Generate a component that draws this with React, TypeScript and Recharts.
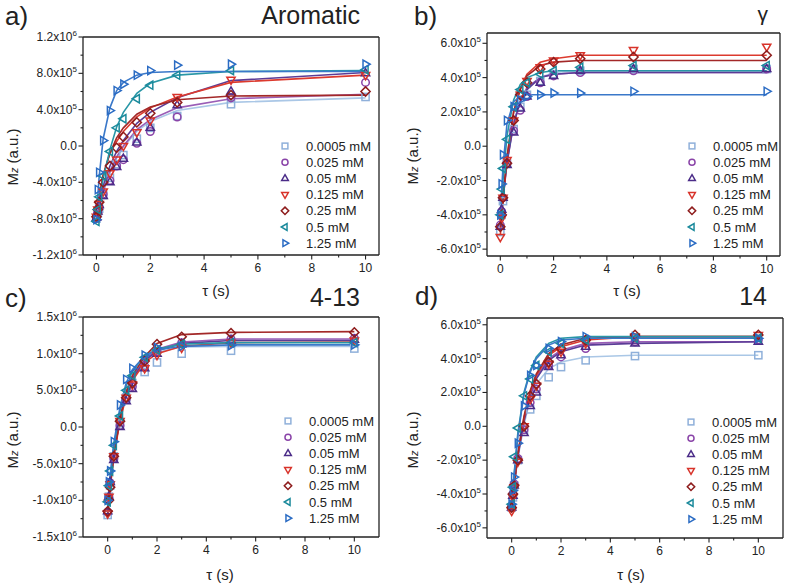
import React from 'react'
import { ComposedChart, Line, XAxis, YAxis, ReferenceLine } from 'recharts'

// delay times (s)
const TIME = [0, 0.05, 0.1, 0.25, 0.5, 0.75, 1, 1.5, 2, 3, 5, 10]

const CONCENTRATIONS = ['0.0005 mM', '0.025 mM', '0.05 mM', '0.125 mM', '0.25 mM', '0.5 mM', '1.25 mM']
const SYMBOLS = ['square', 'circle', 'up', 'down', 'diamond', 'left', 'right']
const SYMBOL_COLORS = ['#8fb0da', '#8a44a8', '#4b2c88', '#d8332a', '#8e1c1c', '#1b8a9c', '#2b6cc4']
const LINE_COLORS = ['#aac7e6', '#9a5db6', '#5b3c96', '#dc3a2e', '#a32828', '#2896a6', '#3a78c9']

// all magnetization values in units of 1e5 (a.u.), one row per concentration
const AROMATIC_PTS = [
  [-8.0, -7.4, -6.9, -5.4, -3.5, -2.0, -1.0, 0.8, 2.0, 3.3, 4.6, 5.4],
  [-8.0, -7.3, -6.8, -5.3, -3.8, -2.2, -1.5, 0.3, 1.6, 3.2, 5.3, 7.0],
  [-7.9, -7.2, -6.5, -5.5, -4.0, -2.3, -1.4, 0.4, 2.0, 4.5, 6.0, 8.0],
  [-7.8, -7.0, -6.4, -5.0, -3.0, -1.5, 0.0, 1.5, 2.8, 5.4, 7.3, 7.8],
  [-7.8, -7.0, -6.2, -4.0, -2.2, -0.2, 1.0, 2.6, 3.6, 4.8, 5.6, 6.0],
  [-8.3, -7.0, -5.6, -3.3, -0.6, 2.0, 3.0, 5.2, 6.7, 7.8, 8.3, 8.4],
  [-8.1, -4.8, -2.9, 0.6, 3.9, 6.1, 6.8, 7.8, 8.3, 8.9, 9.0, 9.0],
]
const AROMATIC_FIT = [
  [-7.8, -7.2, -6.6, -5.0, -2.9, -1.3, -0.1, 1.6, 2.7, 3.9, 4.8, 5.3],
  [-7.8, -7.2, -6.6, -5.0, -2.8, -1.2, 0.0, 1.8, 2.9, 4.2, 5.2, 5.7],
  [-7.8, -7.0, -6.3, -4.4, -2.2, -0.6, 0.6, 2.5, 3.7, 5.3, 7.2, 8.1],
  [-7.6, -6.6, -5.6, -3.2, -0.8, 0.5, 1.6, 3.2, 4.2, 5.4, 7.0, 7.8],
  [-7.6, -6.6, -5.6, -3.2, -0.8, 0.9, 2.0, 3.5, 4.3, 5.1, 5.5, 5.6],
  [-8.2, -7.2, -6.2, -3.6, -0.4, 2.1, 3.7, 5.8, 6.9, 7.8, 8.2, 8.3],
  [-8.0, -5.5, -3.4, 0.8, 4.2, 6.1, 7.0, 7.8, 8.1, 8.2, 8.2, 8.2],
]

const GAMMA_PTS = [
  [-5.0, -4.0, -3.2, -1.0, 1.0, 2.3, 3.0, 3.8, 4.2, 4.4, 4.5, 4.5],
  [-4.6, -3.8, -3.0, -1.0, 0.9, 2.1, 2.9, 3.7, 4.1, 4.3, 4.4, 4.5],
  [-4.7, -3.7, -3.0, -1.1, 0.8, 2.2, 2.9, 3.7, 4.1, 4.4, 4.5, 4.5],
  [-5.3, -4.2, -3.0, -0.8, 1.5, 3.0, 3.8, 4.6, 5.0, 5.3, 5.6, 5.8],
  [-4.7, -4.0, -3.0, -1.0, 1.5, 3.0, 3.7, 4.5, 4.9, 5.1, 5.2, 5.3],
  [-4.0, -2.5, -1.3, 0.4, 2.3, 3.3, 3.7, 4.2, 4.4, 4.6, 4.7, 4.7],
  [-4.0, -2.2, -0.5, 1.5, 2.3, 2.7, 2.9, 3.0, 3.1, 3.1, 3.2, 3.2],
]
const GAMMA_FIT = [
  [-4.8, -3.9, -3.1, -0.9, 1.4, 2.7, 3.4, 4.0, 4.3, 4.4, 4.4, 4.4],
  [-4.6, -3.8, -3.0, -0.9, 1.3, 2.6, 3.4, 4.0, 4.2, 4.3, 4.3, 4.3],
  [-4.7, -3.9, -3.1, -1.0, 1.3, 2.6, 3.3, 4.0, 4.2, 4.3, 4.3, 4.3],
  [-5.2, -4.2, -3.2, -0.7, 2.0, 3.4, 4.2, 4.9, 5.1, 5.3, 5.3, 5.3],
  [-4.8, -3.9, -3.0, -0.6, 2.0, 3.3, 4.1, 4.7, 4.9, 5.0, 5.0, 5.0],
  [-4.3, -3.2, -2.0, 0.6, 2.7, 3.6, 4.0, 4.3, 4.4, 4.4, 4.4, 4.4],
  [-4.2, -2.6, -1.2, 1.3, 2.6, 2.9, 3.0, 3.0, 3.0, 3.0, 3.0, 3.0],
]

const H413_PTS = [
  [-12.0, -9.5, -8.0, -4.0, 0.5, 4.0, 6.0, 7.5, 8.8, 10.0, 10.4, 10.7],
  [-11.6, -9.6, -7.6, -4.3, 0.2, 3.8, 5.5, 8.3, 10.3, 11.5, 12.0, 12.1],
  [-11.5, -9.5, -7.5, -4.5, 0.0, 3.5, 5.2, 8.0, 10.0, 11.3, 11.8, 11.9],
  [-11.8, -9.5, -7.8, -4.0, 0.8, 4.0, 5.8, 8.0, 9.8, 10.8, 11.5, 11.8],
  [-11.5, -10.0, -8.2, -4.0, 0.8, 4.0, 6.0, 9.0, 11.3, 12.3, 12.8, 12.9],
  [-10.2, -8.0, -6.0, -2.5, 1.5, 5.0, 7.0, 9.5, 10.5, 11.3, 11.5, 11.5],
  [-10.0, -7.5, -6.0, -2.0, 3.0, 6.5, 8.0, 9.8, 10.8, 11.0, 11.1, 11.2],
]
const H413_FIT = [
  [-11.5, -9.5, -7.6, -3.5, 1.0, 4.5, 6.6, 9.0, 10.2, 10.9, 11.0, 11.0],
  [-11.9, -9.9, -8.1, -3.7, 1.1, 4.6, 6.8, 9.2, 10.6, 11.6, 12.0, 12.0],
  [-11.8, -9.8, -8.0, -3.7, 1.0, 4.5, 6.6, 9.0, 10.4, 11.4, 11.8, 11.8],
  [-12.2, -10.2, -8.3, -4.0, 0.8, 4.2, 6.3, 8.8, 10.0, 11.0, 11.5, 11.6],
  [-11.8, -10.0, -8.2, -3.8, 1.2, 4.8, 7.0, 9.6, 11.4, 12.6, 12.9, 13.0],
  [-10.8, -8.8, -7.0, -2.6, 2.2, 5.6, 7.6, 9.7, 10.6, 11.3, 11.5, 11.5],
  [-10.5, -8.5, -6.6, -2.2, 2.7, 6.0, 7.8, 9.7, 10.5, 11.0, 11.2, 11.2],
]

const H14_PTS = [
  [-4.8, -4.2, -3.5, -2.0, -0.2, 1.0, 1.8, 2.9, 3.5, 3.9, 4.15, 4.2],
  [-4.7, -4.0, -3.4, -1.9, -0.2, 1.4, 2.2, 3.6, 4.1, 4.6, 5.0, 5.1],
  [-4.8, -4.1, -3.5, -2.0, -0.4, 1.2, 2.0, 3.5, 4.2, 4.7, 4.9, 5.0],
  [-5.0, -4.2, -3.6, -2.1, 0.0, 1.6, 2.4, 3.7, 4.4, 4.9, 5.3, 5.4],
  [-4.8, -4.0, -3.5, -2.0, 0.0, 1.8, 2.5, 3.8, 4.6, 5.1, 5.4, 5.4],
  [-4.6, -3.6, -1.8, -0.1, 1.8, 2.8, 3.6, 4.4, 4.9, 5.1, 5.2, 5.2],
  [-4.6, -3.8, -3.0, -1.0, 1.2, 3.0, 3.6, 4.6, 5.0, 5.3, 5.3, 5.2],
]
const H14_FIT = [
  [-4.8, -4.1, -3.5, -1.9, 0.1, 1.6, 2.5, 3.4, 3.8, 4.1, 4.2, 4.2],
  [-4.7, -4.0, -3.4, -1.7, 0.4, 1.9, 2.9, 4.0, 4.5, 4.9, 5.0, 5.0],
  [-4.8, -4.1, -3.5, -1.8, 0.3, 1.8, 2.8, 3.9, 4.4, 4.8, 4.9, 5.0],
  [-4.9, -4.2, -3.5, -1.7, 0.5, 2.0, 3.0, 4.2, 4.7, 5.1, 5.3, 5.3],
  [-4.8, -4.1, -3.4, -1.6, 0.6, 2.1, 3.1, 4.3, 4.8, 5.2, 5.3, 5.3],
  [-4.7, -3.7, -2.8, -0.4, 2.0, 3.3, 4.1, 4.9, 5.2, 5.3, 5.3, 5.3],
  [-4.7, -3.8, -2.9, -0.6, 1.9, 3.2, 4.0, 4.8, 5.1, 5.2, 5.2, 5.2],
]

const X_TICKS = [0, 1, 2, 3, 4, 5, 6, 7, 8, 9, 10]
const TICKS_12 = [-12, -10, -8, -6, -4, -2, 0, 2, 4, 6, 8, 10, 12]
const TICKS_6 = [-6, -5, -4, -3, -2, -1, 0, 1, 2, 3, 4, 5, 6]
const TICKS_15 = [-15, -12.5, -10, -7.5, -5, -2.5, 0, 2.5, 5, 7.5, 10, 12.5, 15]

const FONT = '"Liberation Sans", Arial, sans-serif'
const INK = '#222'

function Marker({ cx, cy, shape, color, r = 4.6 }: any) {
  if (cx == null || cy == null) return null
  const common = { fill: 'none', stroke: color, strokeWidth: 1.5 }
  switch (shape) {
    case 'square':
      return <rect x={cx - r * 0.78} y={cy - r * 0.78} width={r * 1.56} height={r * 1.56} {...common} />
    case 'circle':
      return <circle cx={cx} cy={cy} r={r * 0.82} {...common} />
    case 'up':
      return <polygon points={`${cx},${cy - r} ${cx + r * 0.9},${cy + r * 0.55} ${cx - r * 0.9},${cy + r * 0.55}`} {...common} />
    case 'down':
      return <polygon points={`${cx},${cy + r} ${cx + r * 0.9},${cy - r * 0.55} ${cx - r * 0.9},${cy - r * 0.55}`} {...common} />
    case 'diamond':
      return <polygon points={`${cx},${cy - r} ${cx + r},${cy} ${cx},${cy + r} ${cx - r},${cy}`} {...common} />
    case 'left':
      return <polygon points={`${cx - r},${cy} ${cx + r * 0.55},${cy - r * 0.9} ${cx + r * 0.55},${cy + r * 0.9}`} {...common} />
    default:
      return <polygon points={`${cx + r},${cy} ${cx - r * 0.55},${cy - r * 0.9} ${cx - r * 0.55},${cy + r * 0.9}`} {...common} />
  }
}

function sciLabel(v: number) {
  const real = v * 1e5
  if (Math.abs(real) < 1e-9) return { main: '0.0', exp: '' }
  const exp = Math.floor(Math.log10(Math.abs(real)) + 1e-9)
  return { main: (real / Math.pow(10, exp)).toFixed(1) + 'x10', exp: String(exp) }
}

type PanelProps = {
  left: number
  top: number
  height: number
  plotLeft: number
  plotRight: number
  plotTop: number
  plotBottom: number
  xDomain: [number, number]
  yDomain: [number, number]
  yTicks: number[]
  yMajor: number
  pts: number[][]
  fit: number[][]
}

function Panel({ left, top, height, plotLeft, plotRight, plotTop, plotBottom, xDomain, yDomain, yTicks, yMajor, pts, fit }: PanelProps) {
  const width = 400
  const rows = TIME.map((t, i) => {
    const row: Record<string, number> = { t }
    pts.forEach((s, k) => { row['p' + k] = s[i] })
    fit.forEach((s, k) => { row['f' + k] = s[i] })
    return row
  })

  const XTick = (p: any) => {
    const v = p.payload.value
    const major = v % 2 === 0
    return (
      <g>
        <line x1={p.x} x2={p.x} y1={plotBottom} y2={plotBottom + (major ? 4.5 : 2.5)} stroke={INK} strokeWidth={1.1} />
        {major && (
          <text x={p.x} y={plotBottom + 17} textAnchor="middle" fontSize={12} fontFamily={FONT} fill={INK}>{v}</text>
        )}
      </g>
    )
  }

  const YTick = (p: any) => {
    const v = p.payload.value
    const major = Math.abs(Math.round(v / yMajor) * yMajor - v) < 1e-6
    const lab = sciLabel(v)
    return (
      <g>
        <line x1={plotLeft} x2={plotLeft - (major ? 4.5 : 2.5)} y1={p.y} y2={p.y} stroke={INK} strokeWidth={1.1} />
        {major && (
          <text x={plotLeft - 6} y={p.y + 4} textAnchor="end" fontSize={12} fontFamily={FONT} fill={INK}>
            <tspan>{lab.main}</tspan>
            {lab.exp && <tspan dy={-5} fontSize={8}>{lab.exp}</tspan>}
          </text>
        )}
      </g>
    )
  }

  return (
    <div style={{ position: 'absolute', left, top, width, height }}>
      <ComposedChart
        width={width}
        height={height}
        data={rows}
        margin={{ top: plotTop, right: width - plotRight, bottom: 0, left: 0 }}
      >
        <XAxis
          type="number"
          dataKey="t"
          domain={xDomain}
          ticks={X_TICKS}
          interval={0}
          allowDataOverflow
          height={height - plotBottom}
          tickLine={false}
          axisLine={{ stroke: INK, strokeWidth: 1.3 }}
          tick={XTick}
        />
        <YAxis
          type="number"
          domain={yDomain}
          ticks={yTicks}
          interval={0}
          allowDataOverflow
          width={plotLeft}
          tickLine={false}
          axisLine={{ stroke: INK, strokeWidth: 1.3 }}
          tick={YTick}
        />
        <ReferenceLine y={yDomain[1]} stroke={INK} strokeWidth={1.3} />
        <ReferenceLine x={xDomain[1]} stroke={INK} strokeWidth={1.3} />
        {CONCENTRATIONS.map((c, k) => (
          <Line
            key={'f' + k}
            type="linear"
            dataKey={'f' + k}
            stroke={LINE_COLORS[k]}
            strokeWidth={1.6}
            dot={false}
            activeDot={false}
            isAnimationActive={false}
          />
        ))}
        {CONCENTRATIONS.map((c, k) => (
          <Line
            key={'p' + k}
            type="linear"
            dataKey={'p' + k}
            stroke="none"
            activeDot={false}
            isAnimationActive={false}
            dot={(d: any) => (
              <Marker key={`m${k}-${d.index}`} cx={d.cx} cy={d.cy} shape={SYMBOLS[k]} color={SYMBOL_COLORS[k]} />
            )}
          />
        ))}
      </ComposedChart>
    </div>
  )
}

function LegendBox({ x, y }: { x: number; y: number }) {
  return (
    <g>
      {CONCENTRATIONS.map((c, k) => (
        <g key={c}>
          <Marker cx={x} cy={y + k * 16.2} shape={SYMBOLS[k]} color={SYMBOL_COLORS[k]} r={3.7} />
          <text x={x + 21} y={y + k * 16.2 + 4.5} fontSize={13} fontFamily={FONT} fill={INK}>{c}</text>
        </g>
      ))}
    </g>
  )
}

function YTitle({ x, y }: { x: number; y: number }) {
  return (
    <text transform={`translate(${x},${y}) rotate(-90)`} textAnchor="middle" fontSize={15} fontFamily={FONT} fill={INK}>
      <tspan>M</tspan>
      <tspan fontSize={11} fontStyle="italic">z</tspan>
      <tspan> (a.u.)</tspan>
    </text>
  )
}

export default function App() {
  return (
    <div style={{ position: 'absolute', left: 0, top: 0, width: 800, height: 587, background: '#fff', overflow: 'hidden' }}>
      <Panel left={0} top={0} height={290} plotLeft={83} plotRight={379} plotTop={37} plotBottom={255}
        xDomain={[-0.5, 10.5]} yDomain={[-12, 12]} yTicks={TICKS_12} yMajor={4} pts={AROMATIC_PTS} fit={AROMATIC_FIT} />
      <Panel left={400} top={0} height={290} plotLeft={87} plotRight={380} plotTop={33} plotBottom={256}
        xDomain={[-0.5, 10.5]} yDomain={[-6.4, 6.6]} yTicks={TICKS_6} yMajor={2} pts={GAMMA_PTS} fit={GAMMA_FIT} />
      <Panel left={0} top={290} height={297} plotLeft={83} plotRight={379} plotTop={27} plotBottom={247}
        xDomain={[-1, 11]} yDomain={[-15, 15]} yTicks={TICKS_15} yMajor={5} pts={H413_PTS} fit={H413_FIT} />
      <Panel left={400} top={290} height={297} plotLeft={87} plotRight={383} plotTop={28} plotBottom={248}
        xDomain={[-1, 11]} yDomain={[-6.6, 6.4]} yTicks={TICKS_6} yMajor={2} pts={H14_PTS} fit={H14_FIT} />

      <svg width={800} height={587} style={{ position: 'absolute', left: 0, top: 0, pointerEvents: 'none' }}>
        <g fontFamily={FONT} fill={INK}>
          <text x={5} y={25} fontSize={26}>a)</text>
          <text x={360} y={24} fontSize={25} textAnchor="end">Aromatic</text>
          <text x={414} y={25} fontSize={26}>b)</text>
          <text x={768} y={21} fontSize={21} textAnchor="end">γ</text>
          <text x={5} y={307} fontSize={26}>c)</text>
          <text x={360} y={306} fontSize={25} textAnchor="end">4-13</text>
          <text x={415} y={305} fontSize={26}>d)</text>
          <text x={767} y={305} fontSize={25} textAnchor="end">14</text>

          <text x={216} y={296} fontSize={15} textAnchor="middle">τ (s)</text>
          <text x={627} y={296} fontSize={15} textAnchor="middle">τ (s)</text>
          <text x={220} y={580} fontSize={15} textAnchor="middle">τ (s)</text>
          <text x={631} y={580} fontSize={15} textAnchor="middle">τ (s)</text>
        </g>
        <YTitle x={18} y={157} />
        <YTitle x={418} y={156} />
        <YTitle x={18} y={440} />
        <YTitle x={418} y={440} />
        <LegendBox x={285} y={146} />
        <LegendBox x={692} y={146} />
        <LegendBox x={288} y={421} />
        <LegendBox x={691} y={422} />
      </svg>
    </div>
  )
}
